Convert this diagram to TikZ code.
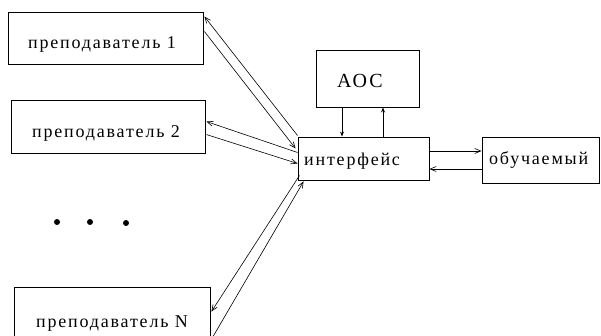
\documentclass[tikz,border=0pt]{standalone}
\usepackage{fontspec}
\setmainfont{Liberation Serif}[LetterSpace=10]
\usetikzlibrary{arrows.meta,calc}
\begin{document}
\begin{tikzpicture}[x=1pt,y=-1pt,
  box/.style={draw,line width=0.9pt,inner sep=0pt,rectangle},
  lbl/.style={anchor=base west,inner sep=0pt,font=\fontsize{18}{18}\selectfont},
  conn/.style={line width=0.6pt,-{Straight Barb[length=6pt,width=5pt]}},
  vconn/.style={line width=0.9pt,-{Stealth[length=5pt,width=4pt]}}]
\useasboundingbox (0,0) rectangle (601,336);
% boxes
\node[box,minimum width=195pt,minimum height=52pt] (p1) at (105.5,38) {};
\node[box,minimum width=194pt,minimum height=53pt] (p2) at (108,126.5) {};
\node[box,minimum width=196pt,minimum height=54pt] (pn) at (112,314) {};
\node[box,minimum width=131pt,minimum height=43pt] (intf) at (363.5,158.5) {};
\node[box,minimum width=103pt,minimum height=57pt] (aoc) at (367.5,78.5) {};
\node[box,minimum width=117pt,minimum height=46pt] (obu) at (540.5,160) {};
% labels
\node[lbl] (t1) at (28,49) {преподаватель 1};
\node[lbl] (t2) at (32,138) {преподаватель 2};
\node[lbl] (tn) at (36,327) {преподаватель N};
\node[lbl] (ti) at (304,166) {интерфейс};
\node[lbl] (to) at (489,165) {обучаемый};
\node[lbl,font=\fontsize{20}{20}\selectfont] (ta) at (337,88) {АОС};
% dots
\fill (57,222) circle (3);
\fill (90,222) circle (3);
\fill (126,223) circle (3);
% connectors
\draw[conn] ($(intf.north west)+(0,-1)$) -- ($(p1.north east)+(1,5)$);
\draw[conn] ($(p1.north east)+(1,20)$) -- ($(intf.west)+(-2,-10)$);
\draw[conn] ($(intf.west)+(0,-6)$) -- ($(p2.north east)+(1,22)$);
\draw[conn] ($(p2.north east)+(1,35)$) -- ($(intf.west)+(0,5)$);
\draw[conn] ($(intf.south west)+(2,-5)$) -- ($(pn.north east)+(1,25)$);
\draw[conn] ($(pn.north east)+(2,51)$) -- ($(intf.south west)+(6,1)$);
\draw[vconn] (aoc.south -| 342,0) -- (intf.north -| 342,0);
\draw[vconn] (intf.north -| 383,0) -- (aoc.south -| 383,0);
\draw[conn] (intf.east |- 0,151) -- (obu.west |- 0,151);
\draw[conn] (obu.west |- 0,169) -- (intf.east |- 0,169);
\end{tikzpicture}
\end{document}
